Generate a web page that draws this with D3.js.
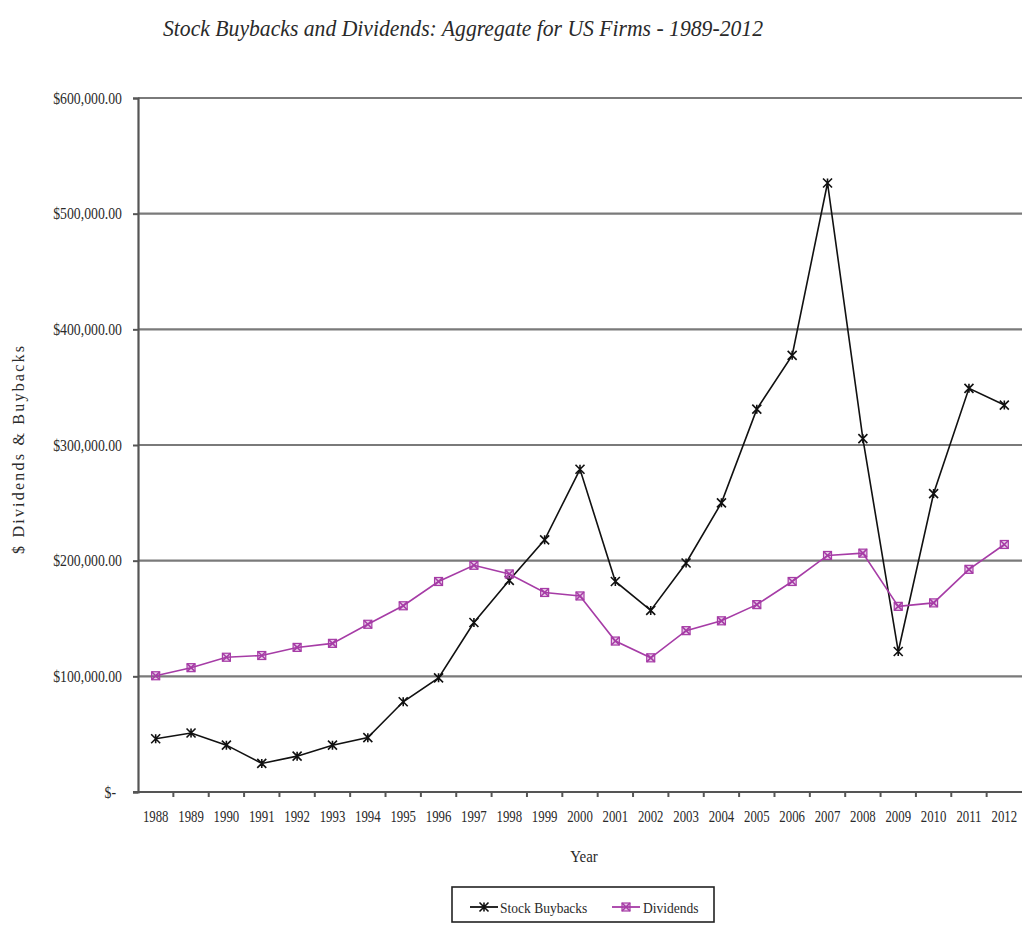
<!DOCTYPE html>
<html>
<head>
<meta charset="utf-8">
<script src="https://cdn.jsdelivr.net/npm/d3@7"></script>
<style>
  html, body { margin: 0; padding: 0; background: #fff; }
  svg { display: block; }
  text { font-family: "Liberation Serif", "Times New Roman", serif; fill: #2a2a2a; }
</style>
</head>
<body>
<svg id="chart" width="1022" height="933"></svg>
<script>
// Years on the category axis
const years = [1988, 1989, 1990, 1991, 1992, 1993, 1994, 1995, 1996, 1997, 1998, 1999,
               2000, 2001, 2002, 2003, 2004, 2005, 2006, 2007, 2008, 2009, 2010, 2011, 2012];

// Aggregate stock buybacks ($ millions)
const buybacks = [46000, 51000, 40500, 24700, 31000, 40500, 47000, 78000, 98700, 146500,
                  183000, 218000, 279000, 182000, 157000, 198000, 250000, 331000, 377500,
                  526500, 305500, 121500, 258000, 349000, 334500];

// Aggregate dividends ($ millions)
const dividends = [100500, 107500, 116500, 118000, 125000, 128500, 145000, 161000, 182000,
                   196000, 188500, 172500, 169500, 130500, 116000, 139500, 148000, 162000,
                   182000, 204500, 206500, 160500, 163500, 192500, 214000];

const yTicks = [0, 100000, 200000, 300000, 400000, 500000, 600000];

const series = [
  { name: "Stock Buybacks", values: buybacks, color: "#111111", marker: "star" },
  { name: "Dividends", values: dividends, color: "#a63ca6", marker: "boxx" }
];

const svg = d3.select("#chart");
const plot = { left: 138, right: 1022, top: 98, bottom: 792 };

const x = d3.scaleBand().domain(years).range([plot.left, plot.right]).paddingInner(0).paddingOuter(0);
const y = d3.scaleLinear().domain([0, 600000]).range([plot.bottom, plot.top]);
const cx = d => x(d) + x.bandwidth() / 2;

// Narrow the glyphs of a text selection horizontally, keeping their height
function condense(sel, factor) {
  sel.each(function () {
    const w = this.getComputedTextLength();
    d3.select(this).attr("textLength", w * factor).attr("lengthAdjust", "spacingAndGlyphs");
  });
}

// Title
svg.append("text")
  .attr("x", 163).attr("y", 36)
  .attr("font-size", 23).attr("font-style", "italic")
  .attr("textLength", 600).attr("lengthAdjust", "spacingAndGlyphs")
  .text("Stock Buybacks and Dividends: Aggregate for US Firms - 1989-2012");

// Horizontal gridlines
svg.append("g").selectAll("line").data(yTicks.slice(1)).join("line")
  .attr("x1", plot.left).attr("x2", plot.right)
  .attr("y1", d => y(d)).attr("y2", d => y(d))
  .attr("stroke", "#7a7a7a").attr("stroke-width", 2.2);

// Y axis
const yAxis = d3.axisLeft(y).tickValues(yTicks).tickSize(5).tickPadding(11)
  .tickFormat(d => d === 0 ? "$-" : "$" + d3.format(",.2f")(d));
const gy = svg.append("g").attr("transform", `translate(${plot.left},0)`).call(yAxis);
gy.select(".domain").attr("stroke", "#555").attr("stroke-width", 2.2);
gy.selectAll(".tick line").attr("stroke", "#555").attr("stroke-width", 2);
gy.selectAll(".tick text")
  .attr("font-size", 16).attr("font-family", null).attr("fill", "#2a2a2a")
  .attr("dx", d => d === 0 ? -6 : 0)
  .call(condense, 0.86);

// X axis: labels centred in each band, ticks on band boundaries
const xAxis = d3.axisBottom(x).tickSize(0).tickPadding(19);
const gx = svg.append("g").attr("transform", `translate(0,${plot.bottom})`).call(xAxis);
gx.select(".domain").remove();
gx.selectAll(".tick text")
  .attr("font-size", 16).attr("font-family", null).attr("fill", "#2a2a2a")
  .call(condense, 0.8);
svg.append("line")
  .attr("x1", plot.left - 5).attr("x2", plot.right)
  .attr("y1", plot.bottom).attr("y2", plot.bottom)
  .attr("stroke", "#555").attr("stroke-width", 2.2);
const bounds = years.map(d => x(d)).concat([plot.right]);
svg.append("g").selectAll("line").data(bounds.slice(1, -1)).join("line")
  .attr("x1", d => d).attr("x2", d => d)
  .attr("y1", plot.bottom).attr("y2", plot.bottom + 5)
  .attr("stroke", "#555").attr("stroke-width", 2);

// Axis titles
svg.append("text")
  .attr("transform", `translate(24,450) rotate(-90)`)
  .attr("text-anchor", "middle").attr("font-size", 16)
  .attr("textLength", 208).attr("lengthAdjust", "spacing")
  .attr("fill", "#2a2a2a")
  .text("$ Dividends & Buybacks");
svg.append("text")
  .attr("x", 584).attr("y", 862).attr("text-anchor", "middle")
  .attr("font-size", 17).attr("fill", "#2a2a2a").text("Year")
  .call(condense, 0.88);

// Marker shapes
function drawMarker(g, kind, color, px, py, s) {
  if (kind === "star") {
    g.append("path")
      .attr("d", `M${px - s},${py - s}L${px + s},${py + s}M${px - s},${py + s}L${px + s},${py - s}M${px},${py - s}L${px},${py + s}`)
      .attr("stroke", color).attr("stroke-width", 1.6).attr("fill", "none");
  } else {
    g.append("rect")
      .attr("x", px - s).attr("y", py - s).attr("width", 2 * s).attr("height", 2 * s)
      .attr("stroke", color).attr("stroke-width", 1.2).attr("fill", color).attr("fill-opacity", 0.25);
    g.append("path")
      .attr("d", `M${px - s},${py - s}L${px + s},${py + s}M${px - s},${py + s}L${px + s},${py - s}`)
      .attr("stroke", color).attr("stroke-width", 1.6).attr("fill", "none");
  }
}

// Lines and markers
const line = d3.line().x((v, i) => cx(years[i])).y(v => y(v));
series.forEach(s => {
  svg.append("path").datum(s.values)
    .attr("d", line).attr("fill", "none")
    .attr("stroke", s.color).attr("stroke-width", 1.6);
  const gm = svg.append("g");
  s.values.forEach((v, i) => drawMarker(gm, s.marker, s.color, cx(years[i]), y(v), s.marker === "star" ? 4.5 : 4));
});

// Legend
const lg = svg.append("g");
lg.append("rect").attr("x", 452).attr("y", 887).attr("width", 262).attr("height", 35)
  .attr("fill", "#fff").attr("stroke", "#222").attr("stroke-width", 1.6);
const legendItems = [
  { s: series[0], x0: 470, tx: 500 },
  { s: series[1], x0: 612, tx: 643 }
];
legendItems.forEach(it => {
  lg.append("line").attr("x1", it.x0).attr("x2", it.x0 + 28)
    .attr("y1", 907).attr("y2", 907)
    .attr("stroke", it.s.color).attr("stroke-width", 1.8);
  drawMarker(lg, it.s.marker, it.s.color, it.x0 + 14, 907, it.s.marker === "star" ? 4.5 : 4);
  lg.append("text").attr("x", it.tx).attr("y", 913)
    .attr("font-size", 15).attr("fill", "#2a2a2a").text(it.s.name)
    .call(condense, 0.9);
});
</script>
</body>
</html>
